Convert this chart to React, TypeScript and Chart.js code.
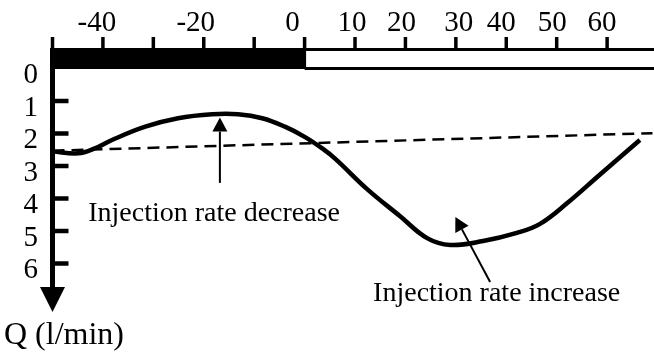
import React, { useEffect, useRef } from "react";
import { Chart, registerables } from "chart.js";

Chart.register(...registerables);

// ---- data ----
const timeMin = [-50, -44.9, -41.6, -38.2, -31.6, -25.1, -18.3, -13.2, -8.4, -3.9, 0.1, 3.5, 6.1, 12.4, 18.9, 24.3, 28.9, 35.4, 42.1, 46.7, 52.1, 58.6, 66.5];
const flowQ = [2.55, 2.61, 2.46, 2.2, 1.79, 1.53, 1.41, 1.41, 1.53, 1.79, 2.11, 2.46, 2.78, 3.71, 4.54, 5.22, 5.43, 5.31, 5.06, 4.78, 4.14, 3.26, 2.2];
const baselineTime = [-50, 69];
const baselineQ = [2.53, 1.99];
const xTickValues = [-50, -40, -30, -20, -10, 0, 10, 20, 30, 40, 50, 60];
const xTickLabels = ["", "-40", "", "-20", "", "0", "10", "20", "30", "40", "50", "60"];
const yTickValues = [0, 1, 2, 3, 4, 5, 6];
const yTickLabels = ["0", "1", "2", "3", "4", "5", "6"];
const yAxisTitle = "Q (l/min)";
const noteDecrease = "Injection rate decrease";
const noteIncrease = "Injection rate increase";

const FONT = '"Liberation Serif", "Times New Roman", serif';

const xLabelShift: Record<string, number> = { "-40": -6, "-20": -8, "0": -12, "10": -3, "20": -4, "30": 3, "40": -5, "50": -4.5, "60": -5 };

function arrow(ctx: CanvasRenderingContext2D, x1: number, y1: number, x2: number, y2: number) {
  const ang = Math.atan2(y2 - y1, x2 - x1);
  const len = 14;
  const half = 7.5;
  const bx = x2 - len * Math.cos(ang);
  const by = y2 - len * Math.sin(ang);
  ctx.lineWidth = 2;
  ctx.beginPath();
  ctx.moveTo(x1, y1);
  ctx.lineTo(bx, by);
  ctx.stroke();
  ctx.beginPath();
  ctx.moveTo(x2, y2);
  ctx.lineTo(bx + half * Math.sin(ang), by - half * Math.cos(ang));
  ctx.lineTo(bx - half * Math.sin(ang), by + half * Math.cos(ang));
  ctx.closePath();
  ctx.fill();
}

const schematicPlugin = {
  id: "schematicAxes",
  beforeDatasetsDraw(chart: any) {
    const ctx: CanvasRenderingContext2D = chart.ctx;
    const xs = chart.scales.x;
    const ys = chart.scales.y;
    const px = (v: number) => xs.getPixelForValue(v);
    const py = (v: number) => ys.getPixelForValue(v);
    const y0 = py(0);
    const barTop = y0 - 20.5;
    const xLeft = px(-50);
    const xZero = px(0);
    ctx.save();
    ctx.fillStyle = "#000";
    ctx.strokeStyle = "#000";
    // filled part of the time bar
    ctx.fillRect(xLeft - 2.5, barTop, xZero - xLeft + 4, y0 - barTop + 0.5);
    // open part of the time bar
    ctx.lineWidth = 3;
    ctx.beginPath();
    ctx.moveTo(xZero, barTop + 1.5);
    ctx.lineTo(chart.width, barTop + 1.5);
    ctx.moveTo(xZero, y0);
    ctx.lineTo(chart.width, y0);
    ctx.stroke();
    // top ticks
    ctx.lineWidth = 3.5;
    xTickValues.forEach((v) => {
      ctx.beginPath();
      ctx.moveTo(px(v), barTop - 11);
      ctx.lineTo(px(v), barTop + 1);
      ctx.stroke();
    });
    // vertical axis with arrow
    const arrowBase = py(6.72);
    const arrowTip = py(7.49);
    ctx.lineWidth = 5;
    ctx.beginPath();
    ctx.moveTo(xLeft, barTop);
    ctx.lineTo(xLeft, arrowBase + 1);
    ctx.stroke();
    ctx.beginPath();
    ctx.moveTo(xLeft - 12.5, arrowBase);
    ctx.lineTo(xLeft + 12.5, arrowBase);
    ctx.lineTo(xLeft, arrowTip);
    ctx.closePath();
    ctx.fill();
    // y ticks
    ctx.lineWidth = 4.5;
    yTickValues.forEach((v) => {
      if (v === 0) return;
      ctx.beginPath();
      ctx.moveTo(xLeft, py(v));
      ctx.lineTo(xLeft + 16, py(v));
      ctx.stroke();
    });
    ctx.restore();
  },
  afterDraw(chart: any) {
    const ctx: CanvasRenderingContext2D = chart.ctx;
    const xs = chart.scales.x;
    const ys = chart.scales.y;
    const px = (v: number) => xs.getPixelForValue(v);
    const py = (v: number) => ys.getPixelForValue(v);
    ctx.save();
    ctx.fillStyle = "#000";
    ctx.strokeStyle = "#000";
    // top labels
    ctx.font = `29px ${FONT}`;
    ctx.textAlign = "center";
    ctx.textBaseline = "alphabetic";
    xTickValues.forEach((v, i) => {
      const t = xTickLabels[i];
      if (!t) return;
      ctx.fillText(t, px(v) + (xLabelShift[t] || 0), 30.5);
    });
    // left labels
    ctx.textAlign = "right";
    yTickValues.forEach((v, i) => {
      ctx.fillText(yTickLabels[i], 38, py(v) + 14.5);
    });
    // axis title
    ctx.font = `32px ${FONT}`;
    ctx.textAlign = "left";
    ctx.fillText(yAxisTitle, 4, 344);
    // annotations
    ctx.font = `28px ${FONT}`;
    ctx.textAlign = "center";
    ctx.fillText(noteDecrease, px(-17.95), py(4.69));
    ctx.fillText(noteIncrease, px(38.1), py(7.14));
    arrow(ctx, px(-16.8), py(3.52), px(-16.8), py(1.51));
    arrow(ctx, px(36.8), py(6.57), px(29.9), py(4.57));
    ctx.restore();
  },
};

export default function App() {
  const ref = useRef<HTMLCanvasElement>(null);
  useEffect(() => {
    if (!ref.current) return;
    const chart = new Chart(ref.current, {
      type: "line",
      data: {
        datasets: [
          {
            data: timeMin.map((t, i) => ({ x: t, y: flowQ[i] })),
            borderColor: "#000",
            borderWidth: 4.5,
            pointRadius: 0,
            tension: 0.4,
            fill: false,
            clip: false as any,
          },
          {
            data: baselineTime.map((t, i) => ({ x: t, y: baselineQ[i] })),
            borderColor: "#000",
            borderWidth: 2.5,
            borderDash: [12, 7],
            pointRadius: 0,
            fill: false,
            clip: false as any,
          },
        ],
      },
      options: {
        responsive: false,
        animation: false,
        devicePixelRatio: 1,
        layout: { padding: { left: 52.5, right: 0, top: 68.5, bottom: 25.5 } },
        scales: {
          x: { type: "linear", min: -50, max: 69.3, display: false },
          y: { type: "linear", min: 0, max: 8, reverse: true, display: false },
        },
        plugins: { legend: { display: false }, tooltip: { enabled: false } },
      },
      plugins: [schematicPlugin],
    });
    return () => chart.destroy();
  }, []);
  return (
    <div style={{ position: "fixed", left: 0, top: 0, width: 654, height: 354, background: "#fff" }}>
      <canvas ref={ref} width={654} height={354} style={{ display: "block" }} />
    </div>
  );
}
